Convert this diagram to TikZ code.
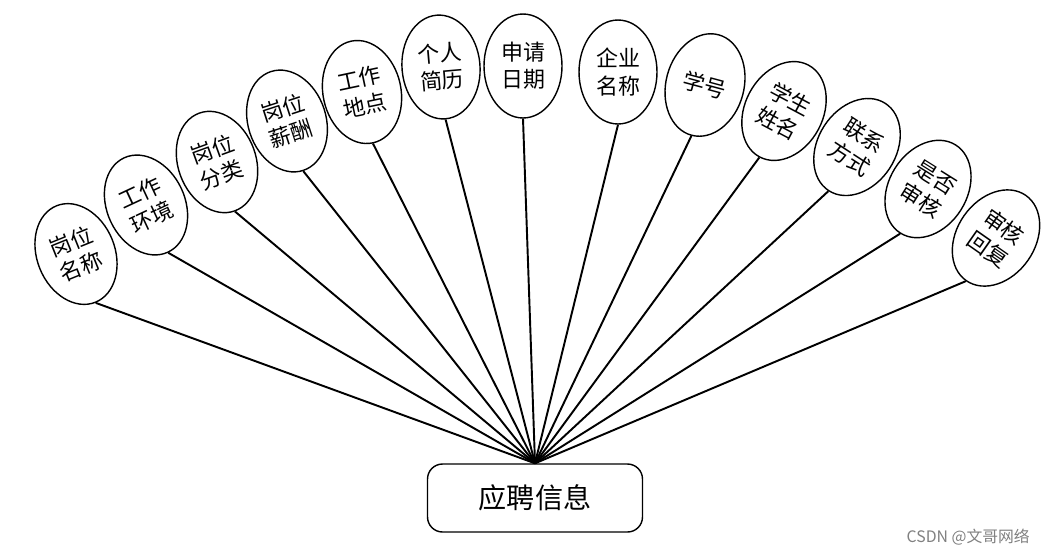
\documentclass[tikz,border=0pt]{standalone}
\usepackage{fontspec}
\newfontfamily\cjk{Noto Sans CJK SC}
\usetikzlibrary{shapes.geometric}

\begin{document}
\begin{tikzpicture}[
x=0.02cm, y=-0.02cm,
attr/.style={ellipse, draw, line width=0.8pt, minimum width=1.56cm, minimum height=2.08cm, inner sep=0pt, align=center, font=\cjk\fontsize{12.5}{15.5}\selectfont},
entity/.style={draw, rounded corners=0.3cm, line width=0.8pt, minimum width=4.3cm, minimum height=1.36cm, font=\cjk\fontsize{16}{19}\selectfont},
link/.style={line width=1.1pt}
]
\useasboundingbox (0,0) rectangle (1050,555);

\node[entity] (yp) at (535,498) {应聘信息};

\node[attr, rotate=22] (gwmc) at (76,254) {岗位\\名称};
\node[attr, rotate=25] (gzhj) at (146,205) {工作\\环境};
\node[attr, rotate=20] (gwfl) at (217,162) {岗位\\分类};
\node[attr, rotate=18] (gwxc) at (287,121) {岗位\\薪酬};
\node[attr, rotate=12] (gzdd) at (362,92) {工作\\地点};
\node[attr, rotate=5] (grjl) at (441,67) {个人\\简历};
\node[attr] (sqrq) at (523,66) {申请\\日期};
\node[attr] (qymc) at (618,72) {企业\\名称};
\node[attr, rotate=-15] (xh) at (705,85) {学号};
\node[attr, rotate=-28] (xsxm) at (784,111) {学生\\姓名};
\node[attr, rotate=-33] (lxfs) at (857,147) {联系\\方式};
\node[attr, rotate=-32] (sfsh) at (928,189) {是否\\审核};
\node[attr, rotate=-35] (shhf) at (996,238) {审核\\回复};

\draw[link] (yp.north) -- (gwmc.south);
\draw[link] (yp.north) -- (gzhj.south);
\draw[link] (yp.north) -- (gwfl.south);
\draw[link] (yp.north) -- (gwxc.south);
\draw[link] (yp.north) -- (gzdd.south);
\draw[link] (yp.north) -- (grjl.south);
\draw[link] (yp.north) -- (sqrq.south);
\draw[link] (yp.north) -- (qymc.south);
\draw[link] (yp.north) -- (xh.south);
\draw[link] (yp.north) -- (xsxm.south);
\draw[link] (yp.north) -- (lxfs.south);
\draw[link] (yp.north) -- (sfsh.south);
\draw[link] (yp.north) -- (shhf.south);

% watermark
\node[anchor=east, text=gray, font=\cjk\fontsize{9}{11}\selectfont] (wm) at (1036,537) {CSDN @文哥网络};

\end{tikzpicture}
\end{document}
